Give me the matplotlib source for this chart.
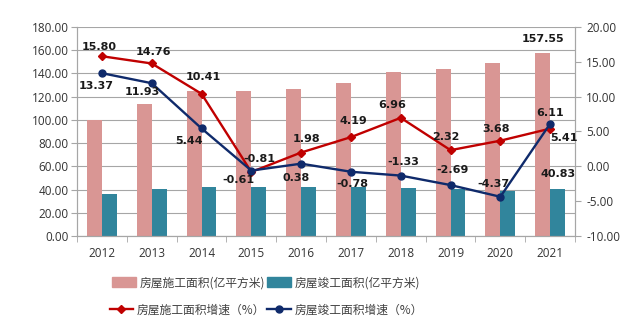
import matplotlib
matplotlib.use("Agg")
import matplotlib.pyplot as plt
import numpy as np
from matplotlib.patches import Patch
from matplotlib.lines import Line2D

plt.rcParams['font.family'] = ['Noto Sans CJK SC', 'DejaVu Sans']

years = ["2012", "2013", "2014", "2015", "2016", "2017", "2018", "2019", "2020", "2021"]
construction_area = [100.0, 113.4, 125.1, 124.6, 126.9, 131.7, 140.9, 144.2, 149.4, 157.55]
completed_area = [35.9, 40.2, 42.3, 42.1, 42.2, 41.9, 41.3, 40.2, 38.4, 40.83]
construction_growth = [15.80, 14.76, 10.41, -0.81, 1.98, 4.19, 6.96, 2.32, 3.68, 5.41]
completed_growth = [13.37, 11.93, 5.44, -0.61, 0.38, -0.78, -1.33, -2.69, -4.37, 6.11]

left_ticks = np.arange(0, 181, 20)
right_ticks = np.arange(-10, 21, 5)

pink = "#D99694"
teal = "#31859C"
red = "#C00000"
navy = "#0F2A6B"
grid_c = "#A6A6A6"

fig = plt.figure(figsize=(6.34, 3.29), dpi=100)
ax = fig.add_axes([0.1215, 0.2827, 0.7855, 0.6353])
ax2 = ax.twinx()

x = np.arange(len(years))
w = 0.3
ax.bar(x - 0.15, construction_area, width=w, color=pink, zorder=2)
ax.bar(x + 0.15, completed_area, width=w, color=teal, zorder=2)

ax.set_ylim(0, 180)
ax.set_yticks(left_ticks)
ax.set_yticklabels([f"{v:.2f}" for v in left_ticks])
ax.set_xlim(-0.5, len(years) - 0.5)
ax.set_xticks(x)
ax.set_xticklabels(years)
ax.set_xticks(np.arange(-0.5, len(years)), minor=True)
ax.tick_params(axis='x', which='major', length=0, pad=8)
ax.tick_params(axis='x', which='minor', length=4, color=grid_c, direction='out')
ax.tick_params(axis='y', length=4, color=grid_c, direction='out', pad=2)
ax.grid(axis='y', color=grid_c, linewidth=0.8, zorder=0)
ax.set_axisbelow(True)

ax2.plot(x, construction_growth, color=red, lw=1.7, marker='D', ms=3.8, zorder=3)
ax2.plot(x, completed_growth, color=navy, lw=1.7, marker='o', ms=5, zorder=4)
ax2.set_ylim(-10, 20)
ax2.set_yticks(right_ticks)
ax2.set_yticklabels([f"{v:.2f}" for v in right_ticks])
ax2.tick_params(axis='y', length=4, color=grid_c, direction='out', pad=4)

for a in (ax, ax2):
    a.spines['top'].set_visible(False)
    for s in ('left', 'right', 'bottom'):
        a.spines[s].set_color(grid_c)
    a.tick_params(labelsize=8.5, labelcolor="#333333")
    for lab in a.get_xticklabels() + a.get_yticklabels():
        lab.set_family(['Open Sans', 'DejaVu Sans'])

lab_kw = dict(fontsize=8, fontweight='bold', color="#1a1a1a",
              family=['DejaVu Sans'], ha='center', va='center',
              textcoords='offset points')

red_off = [(-2, 6.5), (1.5, 8.6), (1.5, 12), (6, 9), (4, 10),
           (2, 11.5), (-6, 9.5), (-3.5, 9.5), (-3, 8.6), (10, -6.5)]
blue_off = [(-4, -9), (-7, -6), (-9, -9), (-9, -6.5), (-3.5, -10),
            (0.7, -8.6), (2, 9.5), (1.5, 11), (-5, 9.4), (0, 8)]

for i, v in enumerate(construction_growth):
    ax2.annotate(f"{v:.2f}", (x[i], v), xytext=red_off[i], zorder=6, **lab_kw)
for i, v in enumerate(completed_growth):
    ax2.annotate(f"{v:.2f}", (x[i], v), xytext=blue_off[i], zorder=6, **lab_kw)

last = len(years) - 1
ax.annotate(f"{construction_area[last]:.2f}", (x[last] - 0.15, construction_area[last]),
            xytext=(0, 10), **lab_kw)
ax.annotate(f"{completed_area[last]:.2f}", (x[last] + 0.15, completed_area[last]),
            xytext=(0, 10.5), **lab_kw)

h1 = [Patch(color=pink), Patch(color=teal)]
l1 = ["房屋施工面积(亿平方米)", "房屋竣工面积(亿平方米)"]
fig.legend(h1, l1, loc='center', bbox_to_anchor=(0.42, 0.14), ncol=2,
           frameon=False, fontsize=8.5, handlelength=2.0, handleheight=0.9,
           columnspacing=0.2, handletextpad=0.3, labelcolor="#404040")
h2 = [Line2D([], [], color=red, lw=1.7, marker='D', ms=3.8),
      Line2D([], [], color=navy, lw=1.7, marker='o', ms=5)]
l2 = ["房屋施工面积增速（%）", "房屋竣工面积增速（%）"]
fig.legend(h2, l2, loc='center', bbox_to_anchor=(0.42, 0.058), ncol=2,
           frameon=False, fontsize=8.5, handlelength=2.0,
           columnspacing=0.2, handletextpad=0.3, labelcolor="#404040")

fig.savefig("out.png", dpi=100)
